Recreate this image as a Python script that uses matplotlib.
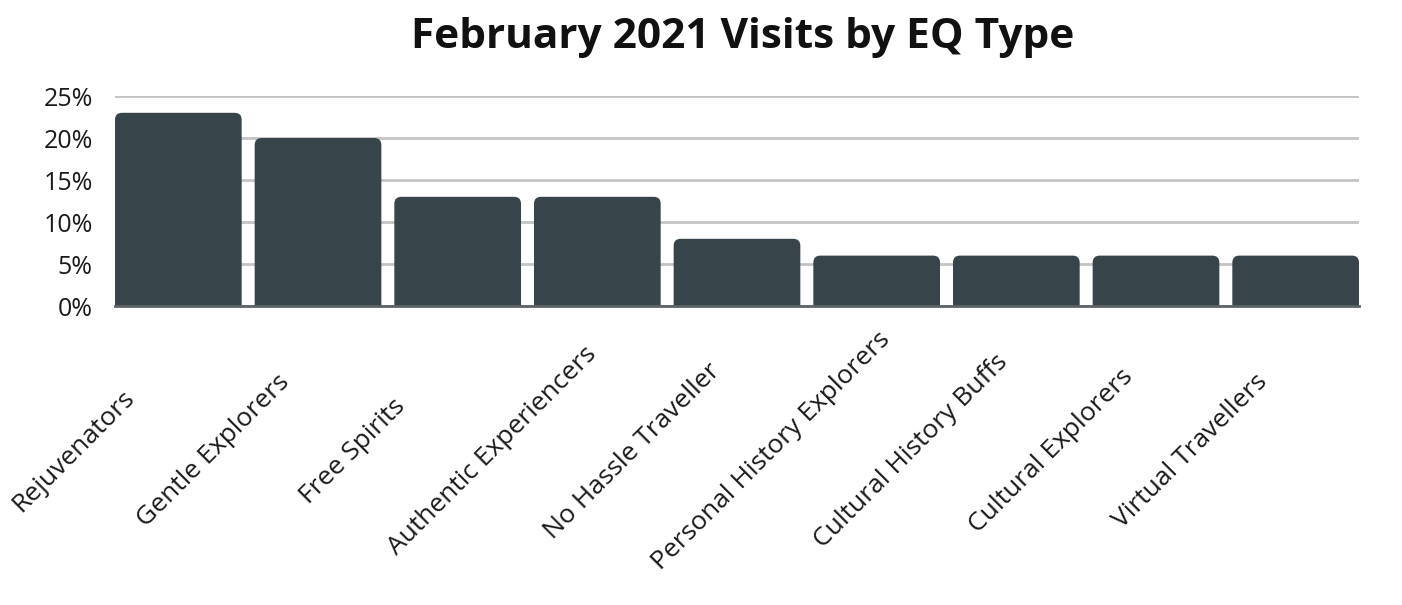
import matplotlib
matplotlib.use("Agg")
import matplotlib.pyplot as plt
from matplotlib.patches import FancyBboxPatch
from matplotlib.ticker import FuncFormatter

plt.rcParams['font.family'] = ['Open Sans', 'DejaVu Sans']

# data
categories = ['Rejuvenators', 'Gentle Explorers', 'Free Spirits',
              'Authentic Experiencers', 'No Hassle Traveller',
              'Personal History Explorers', 'Cultural History Buffs',
              'Cultural Explorers', 'Virtual Travellers']
visits_pct = [23, 20, 13, 13, 8, 6, 6, 6, 6]
yticks = [0, 5, 10, 15, 20, 25]

bar_color = '#37444a'
grid_color = '#c4c4c4'

W, H = 1402, 605
ax_l, ax_r, ax_t, ax_b = 115, 1359, 96, 306
fig = plt.figure(figsize=(W / 100, H / 100), dpi=100)
ax = fig.add_axes([ax_l / W, 1 - ax_b / H, (ax_r - ax_l) / W, (ax_b - ax_t) / H])

x = list(range(len(categories)))
bar_w = 0.907
bars = ax.bar(x, visits_pct, width=bar_w, color=bar_color)

ax.set_xlim(-bar_w / 2, len(categories) - 1 + bar_w / 2)
ax.set_ylim(0, 25)

# rounded top corners: swap each bar for a rounded box (bottom hidden below axis)
px_x = (ax_r - ax_l) / (len(categories) - 1 + bar_w)   # pixels per x unit
px_y = (ax_b - ax_t) / 25                               # pixels per y unit
asp = px_x / px_y
r_px = 7
for b in bars:
    b.set_visible(False)
    bx, bw, bh = b.get_x(), b.get_width(), b.get_height()
    pad = r_px / px_x
    patch = FancyBboxPatch((bx + pad, -5), bw - 2 * pad, bh + 5 - pad * asp,
                           boxstyle=f"round,pad={pad},rounding_size={pad}",
                           mutation_aspect=asp,
                           facecolor=bar_color, edgecolor='none', zorder=2)
    ax.add_patch(patch)

ax.set_yticks(yticks)
ax.yaxis.set_major_formatter(FuncFormatter(lambda v, p: f'{int(v)}%'))
ax.tick_params(axis='y', length=0, pad=16, labelsize=18, labelcolor='#1a1a1a')
ax.grid(axis='y', color=grid_color, linewidth=2)
ax.set_axisbelow(True)
for s in ['top', 'right', 'left']:
    ax.spines[s].set_visible(False)
ax.spines['bottom'].set_color('#5d6366')
ax.spines['bottom'].set_linewidth(2)
ax.spines['bottom'].set_zorder(3)

ax.set_xticks(x)
ax.set_xticklabels([])
ax.tick_params(axis='x', length=0)
for i, lab in enumerate(categories):
    ax.annotate(lab, xy=(i, 0), xycoords=('data', 'axes fraction'),
                xytext=(-105 * 0.72, -145 * 0.72), textcoords='offset points',
                rotation=45, rotation_mode='anchor', ha='center', va='center',
                fontsize=19, color='#1a1a1a', annotation_clip=False)

fig.text(743 / W, 1 - 37 / H, 'February 2021 Visits by EQ Type',
         ha='center', va='center', fontsize=30.5, fontweight='bold', color='#111111')

fig.savefig('out.png', dpi=100)
